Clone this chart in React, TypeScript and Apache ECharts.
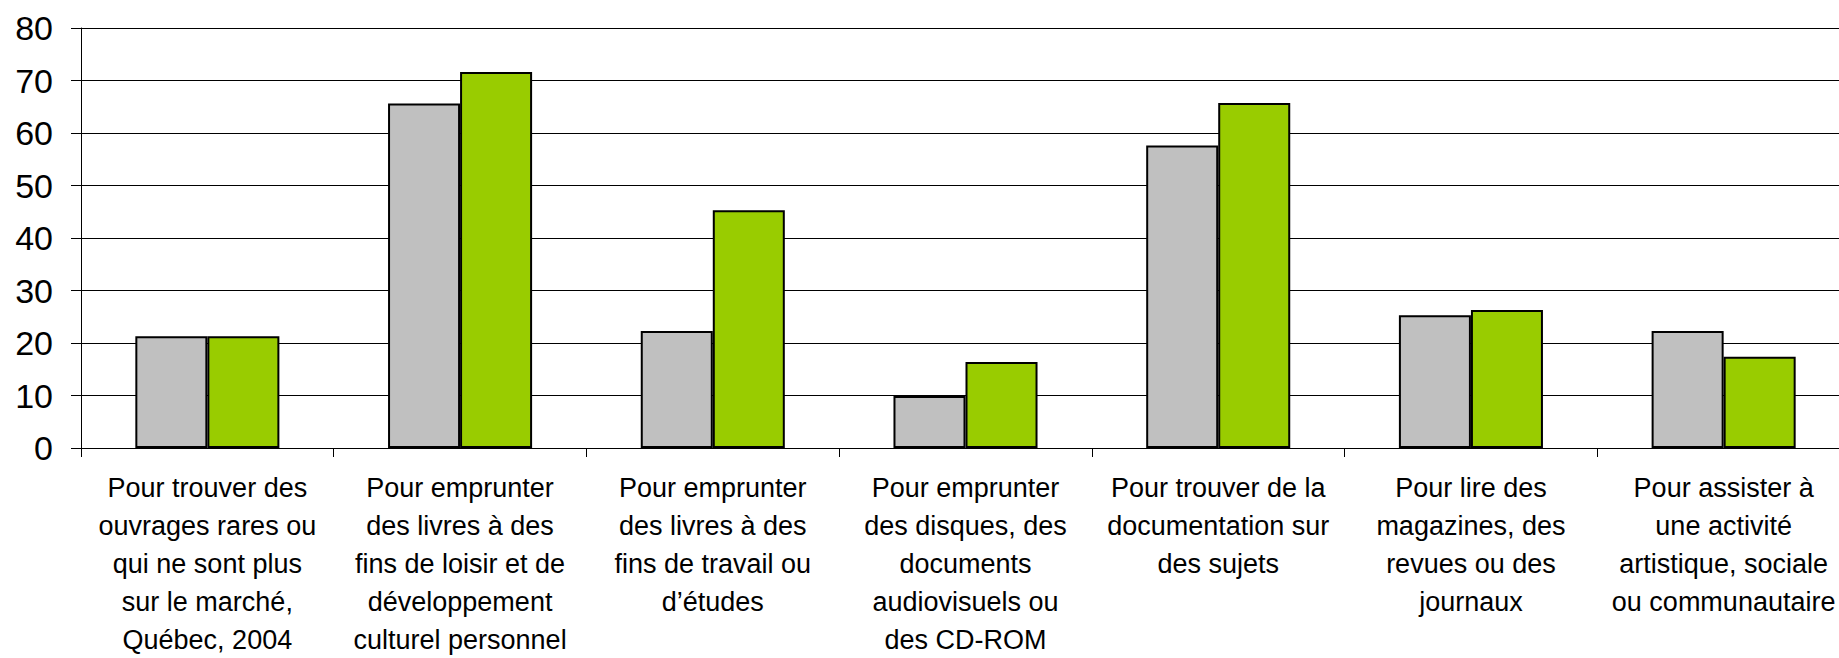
import React, { useEffect, useRef } from "react";
import * as echarts from "echarts";

const categories: string[] = [
  "Pour trouver des\nouvrages rares ou\nqui ne sont plus\nsur le marché,\nQuébec, 2004",
  "Pour emprunter\ndes livres à des\nfins de loisir et de\ndéveloppement\nculturel personnel",
  "Pour emprunter\ndes livres à des\nfins de travail ou\nd’études",
  "Pour emprunter\ndes disques, des\ndocuments\naudiovisuels ou\ndes CD-ROM",
  "Pour trouver de la\ndocumentation sur\ndes sujets",
  "Pour lire des\nmagazines, des\nrevues ou des\njournaux",
  "Pour assister à\nune activité\nartistique, sociale\nou communautaire",
];

const seriesGray: number[] = [21.3, 65.6, 22.3, 9.9, 57.6, 25.3, 22.3];
const seriesGreen: number[] = [21.3, 71.6, 45.3, 16.4, 65.7, 26.3, 17.4];

const yMin = 0;
const yMax = 80;
const yInterval = 10;

export default function App() {
  const ref = useRef<HTMLDivElement>(null);
  useEffect(() => {
    document.body.style.margin = "0";
    if (!ref.current) return;
    const chart = echarts.init(ref.current, null, { renderer: "svg" });
    const font = "'Liberation Sans', Arial, sans-serif";
    chart.setOption({
      animation: false,
      backgroundColor: "#ffffff",
      grid: {
        left: 81,
        width: 1769,
        top: 28,
        bottom: 210,
        containLabel: false,
        outerBoundsMode: "none",
      },
      xAxis: {
        type: "category",
        data: categories,
        axisLine: { show: true, lineStyle: { color: "#000", width: 1 } },
        axisTick: { show: true, length: 9, lineStyle: { color: "#000", width: 1 } },
        axisLabel: {
          interval: 0,
          margin: 21,
          fontSize: 27,
          lineHeight: 38,
          color: "#000",
          fontFamily: font,
          align: "center",
        },
        splitLine: { show: false },
      },
      yAxis: {
        type: "value",
        min: yMin,
        max: yMax,
        interval: yInterval,
        axisLine: { show: true, lineStyle: { color: "#000", width: 1 } },
        axisTick: { show: true, length: 10, lineStyle: { color: "#000", width: 1 } },
        axisLabel: { margin: 28, fontSize: 34, color: "#000", fontFamily: font },
        splitLine: { show: true, lineStyle: { color: "#000", width: 1 } },
      },
      series: [
        {
          type: "bar",
          data: seriesGray,
          barGap: "0%",
          barCategoryGap: "43%",
          itemStyle: { color: "#C0C0C0", borderColor: "#000", borderWidth: 2 },
        },
        {
          type: "bar",
          data: seriesGreen,
          barGap: "0%",
          barCategoryGap: "43%",
          itemStyle: { color: "#99CC00", borderColor: "#000", borderWidth: 2 },
        },
      ],
    });
    return () => chart.dispose();
  }, []);
  return <div ref={ref} style={{ width: 1839, height: 658 }} />;
}
